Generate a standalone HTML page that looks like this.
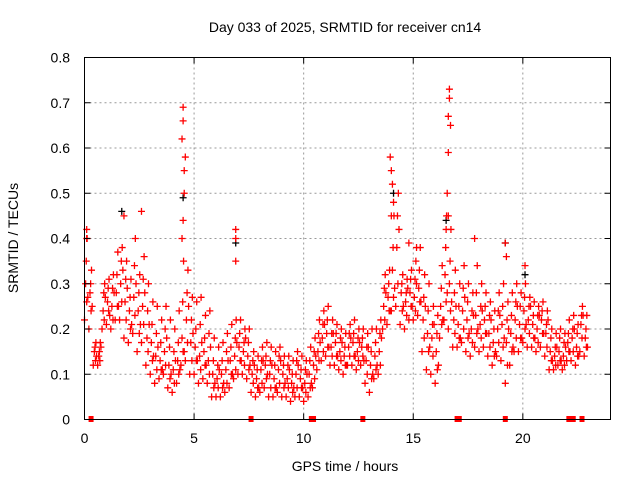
<!DOCTYPE html>
<html><head><meta charset="utf-8"><style>
body{margin:0;background:#fff;width:640px;height:480px;overflow:hidden}
text{font-family:"Liberation Sans",sans-serif;font-size:14px;fill:#000}
</style></head><body>
<svg id="chart" width="640" height="480" xmlns="http://www.w3.org/2000/svg">
<text x="345" y="32" text-anchor="middle">Day 033 of 2025, SRMTID for receiver cn14</text>
<text x="345" y="471" text-anchor="middle">GPS time / hours</text>
<text x="18" y="238" text-anchor="middle" transform="rotate(-90 18 238)">SRMTID / TECUs</text>
<g id="grid"></g>
<g id="marks"></g>
<rect x="84.5" y="57.5" width="526" height="362" fill="none" stroke="#000" stroke-width="1"/>
<g id="ticks"></g>
</svg>
<script>
const xTicks=[0,5,10,15,20];
const yTicks=[0,0.1,0.2,0.3,0.4,0.5,0.6,0.7,0.8];
const yTickLabels=["0","0.1","0.2","0.3","0.4","0.5","0.6","0.7","0.8"];
const t0=0, dt=0.2;
const vLo=[0.22,0.20,0.12,0.12,0.20,0.21,0.20,0.22,0.22,0.18,0.17,0.19,0.15,0.17,0.12,0.10,0.08,0.09,0.10,0.07,0.06,0.08,0.12,0.13,0.10,0.10,0.08,0.09,0.08,0.05,0.05,0.05,0.06,0.07,0.09,0.10,0.10,0.09,0.06,0.05,0.06,0.07,0.05,0.05,0.06,0.05,0.05,0.04,0.05,0.05,0.04,0.05,0.07,0.11,0.13,0.14,0.12,0.12,0.11,0.10,0.12,0.12,0.11,0.12,0.08,0.06,0.09,0.10,0.20,0.21,0.24,0.25,0.21,0.20,0.22,0.22,0.23,0.15,0.11,0.10,0.08,0.18,0.22,0.20,0.16,0.16,0.17,0.15,0.14,0.16,0.15,0.16,0.14,0.12,0.14,0.13,0.08,0.12,0.15,0.15,0.17,0.16,0.16,0.15,0.16,0.14,0.11,0.11,0.12,0.11,0.13,0.13,0.12,0.15,0.14];
const vQ1=[0.26,0.24,0.13,0.13,0.22,0.24,0.22,0.25,0.26,0.22,0.20,0.23,0.19,0.21,0.15,0.13,0.11,0.11,0.12,0.09,0.08,0.10,0.15,0.17,0.13,0.13,0.11,0.12,0.10,0.07,0.07,0.07,0.08,0.10,0.11,0.13,0.12,0.11,0.08,0.07,0.08,0.09,0.07,0.07,0.08,0.07,0.07,0.06,0.07,0.07,0.06,0.07,0.09,0.13,0.15,0.16,0.14,0.14,0.13,0.12,0.14,0.14,0.13,0.14,0.10,0.09,0.11,0.12,0.22,0.24,0.27,0.30,0.24,0.23,0.25,0.24,0.26,0.18,0.15,0.14,0.11,0.21,0.26,0.24,0.19,0.18,0.20,0.18,0.17,0.19,0.18,0.19,0.16,0.14,0.17,0.16,0.12,0.15,0.18,0.18,0.20,0.19,0.18,0.17,0.19,0.16,0.13,0.12,0.13,0.12,0.15,0.15,0.14,0.18,0.16];
const vMidA=[0.30,0.28,0.15,0.14,0.24,0.26,0.25,0.28,0.30,0.26,0.24,0.27,0.24,0.25,0.18,0.17,0.14,0.13,0.15,0.12,0.11,0.13,0.18,0.22,0.17,0.16,0.14,0.15,0.13,0.10,0.09,0.10,0.11,0.13,0.14,0.16,0.15,0.14,0.10,0.09,0.11,0.12,0.10,0.09,0.11,0.10,0.09,0.08,0.10,0.09,0.08,0.10,0.12,0.15,0.18,0.19,0.16,0.17,0.15,0.14,0.16,0.17,0.15,0.16,0.13,0.12,0.14,0.15,0.25,0.27,0.33,0.38,0.28,0.26,0.28,0.27,0.29,0.22,0.19,0.18,0.15,0.25,0.32,0.30,0.22,0.21,0.24,0.22,0.20,0.23,0.21,0.22,0.19,0.17,0.20,0.21,0.17,0.19,0.22,0.21,0.24,0.22,0.21,0.20,0.22,0.19,0.15,0.14,0.15,0.14,0.17,0.18,0.16,0.21,0.18];
const vMidB=[0.27,0.25,0.14,0.16,0.27,0.23,0.28,0.25,0.33,0.29,0.21,0.30,0.21,0.28,0.21,0.14,0.16,0.11,0.18,0.10,0.13,0.11,0.15,0.25,0.19,0.13,0.17,0.12,0.16,0.08,0.11,0.08,0.13,0.10,0.17,0.13,0.18,0.12,0.12,0.07,0.13,0.10,0.12,0.07,0.13,0.08,0.11,0.07,0.12,0.07,0.10,0.08,0.14,0.17,0.21,0.16,0.19,0.14,0.17,0.12,0.18,0.14,0.17,0.13,0.16,0.10,0.12,0.18,0.28,0.24,0.29,0.42,0.25,0.29,0.25,0.30,0.26,0.25,0.16,0.21,0.12,0.22,0.28,0.26,0.25,0.18,0.27,0.19,0.23,0.20,0.24,0.19,0.22,0.15,0.23,0.18,0.20,0.16,0.25,0.18,0.21,0.25,0.18,0.23,0.19,0.22,0.13,0.16,0.13,0.16,0.15,0.20,0.14,0.23,0.16];
const vQ3=[0.35,0.30,0.16,0.15,0.28,0.29,0.29,0.32,0.35,0.31,0.27,0.34,0.28,0.31,0.24,0.21,0.19,0.17,0.20,0.16,0.15,0.17,0.26,0.28,0.22,0.20,0.21,0.18,0.19,0.13,0.12,0.13,0.15,0.16,0.18,0.19,0.17,0.17,0.13,0.11,0.13,0.14,0.13,0.12,0.14,0.12,0.12,0.10,0.13,0.11,0.11,0.13,0.15,0.19,0.21,0.22,0.19,0.19,0.18,0.16,0.19,0.19,0.18,0.18,0.16,0.15,0.17,0.19,0.29,0.30,0.38,0.45,0.30,0.28,0.31,0.31,0.33,0.27,0.24,0.21,0.19,0.29,0.38,0.35,0.28,0.25,0.29,0.26,0.24,0.28,0.25,0.25,0.23,0.20,0.24,0.25,0.22,0.23,0.26,0.25,0.27,0.25,0.23,0.23,0.24,0.21,0.18,0.16,0.18,0.17,0.19,0.20,0.19,0.23,0.20];
const vHi=[0.40,0.33,0.17,0.17,0.30,0.31,0.32,0.37,0.38,0.35,0.31,0.40,0.32,0.36,0.30,0.26,0.25,0.22,0.25,0.22,0.20,0.24,0.35,0.33,0.27,0.26,0.27,0.23,0.24,0.18,0.16,0.17,0.19,0.21,0.22,0.22,0.20,0.20,0.15,0.14,0.16,0.17,0.16,0.15,0.16,0.14,0.14,0.13,0.15,0.14,0.13,0.16,0.18,0.22,0.24,0.25,0.22,0.21,0.20,0.19,0.21,0.22,0.20,0.20,0.19,0.20,0.20,0.22,0.32,0.33,0.45,0.50,0.32,0.31,0.33,0.35,0.38,0.32,0.30,0.25,0.23,0.34,0.45,0.42,0.33,0.30,0.34,0.30,0.28,0.34,0.30,0.28,0.26,0.24,0.28,0.30,0.26,0.28,0.30,0.28,0.30,0.27,0.26,0.25,0.26,0.24,0.20,0.19,0.20,0.19,0.22,0.23,0.21,0.25,0.23];
const spikeT=[4.45,4.5,4.5,4.55,4.6,4.55,4.5,4.45,2.6,1.8,6.9,6.9,6.9,13.95,14.0,14.05,14.1,14.0,16.65,16.65,16.6,16.7,16.6,16.55,16.6,16.5,19.2,19.25,20.1,0.1,0.1,15.15,17.8,14.8];
const spikeV=[0.62,0.69,0.66,0.55,0.58,0.50,0.44,0.40,0.46,0.45,0.42,0.40,0.35,0.58,0.55,0.52,0.48,0.45,0.73,0.71,0.67,0.65,0.59,0.50,0.45,0.42,0.39,0.36,0.34,0.42,0.40,0.38,0.40,0.39];
const zeroT=[0.3,7.6,10.35,10.45,12.7,17.0,17.1,19.2,22.1,22.3,22.7];
const blackT=[4.5,6.9,16.5,19.2,1.7,14.1,20.1];
const blackV=[0.49,0.39,0.44,0.39,0.46,0.50,0.32];
const NS="http://www.w3.org/2000/svg";
const X=v=>84.5+v*526/24, Y=v=>419.5-v*362/0.8;
const grid=document.getElementById('grid'),ticks=document.getElementById('ticks'),marks=document.getElementById('marks');
function mk(tag,attrs,parent){const e=document.createElementNS(NS,tag);for(const k in attrs)e.setAttribute(k,attrs[k]);parent.appendChild(e);return e;}
xTicks.forEach(v=>{
  if(v>0){const g=mk('line',{x1:X(v),x2:X(v),y1:57.5,y2:419.5,stroke:'#999','stroke-dasharray':'2,3'},grid);
  
  }
  mk('line',{x1:X(v),x2:X(v),y1:419.5,y2:413.5,stroke:'#000'},ticks);
  mk('line',{x1:X(v),x2:X(v),y1:57.5,y2:63.5,stroke:'#000'},ticks);
  const t=mk('text',{x:X(v),y:443,'text-anchor':'middle'},ticks);t.textContent=v;
  
  
});
yTicks.forEach((v,i)=>{
  if(v>0&&v<0.8){const g=mk('line',{x1:84.5,x2:610.5,y1:Y(v),y2:Y(v),stroke:'#999','stroke-dasharray':'2,3'},grid);
  
  }
  mk('line',{x1:84.5,x2:90.5,y1:Y(v),y2:Y(v),stroke:'#000'},ticks);
  mk('line',{x1:604.5,x2:610.5,y1:Y(v),y2:Y(v),stroke:'#000'},ticks);
  const t=mk('text',{x:70,y:Y(v)+5,'text-anchor':'end'},ticks);t.textContent=yTickLabels[i];
  
  
});
function plus(t,v,c,name){
  const x=X(t),y=Y(v);
  const p=mk('path',{d:`M${x-3.5},${y}H${x+3.5}M${x},${y-3.5}V${y+3.5}`,stroke:c,'stroke-width':1.3,fill:'none'},marks);
  
  
}
blackT.forEach((t,i)=>plus(t,blackV[i],'#000','black-point'));
const series=[vLo,vQ1,vMidA,vMidB,vQ3,vHi];
const offs=[0,0.1,0.05,0.15,0.08,0.12];
series.forEach((arr,k)=>arr.forEach((v,i)=>plus(t0+i*dt+offs[k],v,'#f00','red-point')));
spikeT.forEach((t,i)=>plus(t,spikeV[i],'#f00','red-spike-point'));
zeroT.forEach(t=>{const r=mk('rect',{x:X(t)-2.5,y:416,width:5,height:6,fill:'#f00'},marks);
  
  });
</script>
</body></html>
